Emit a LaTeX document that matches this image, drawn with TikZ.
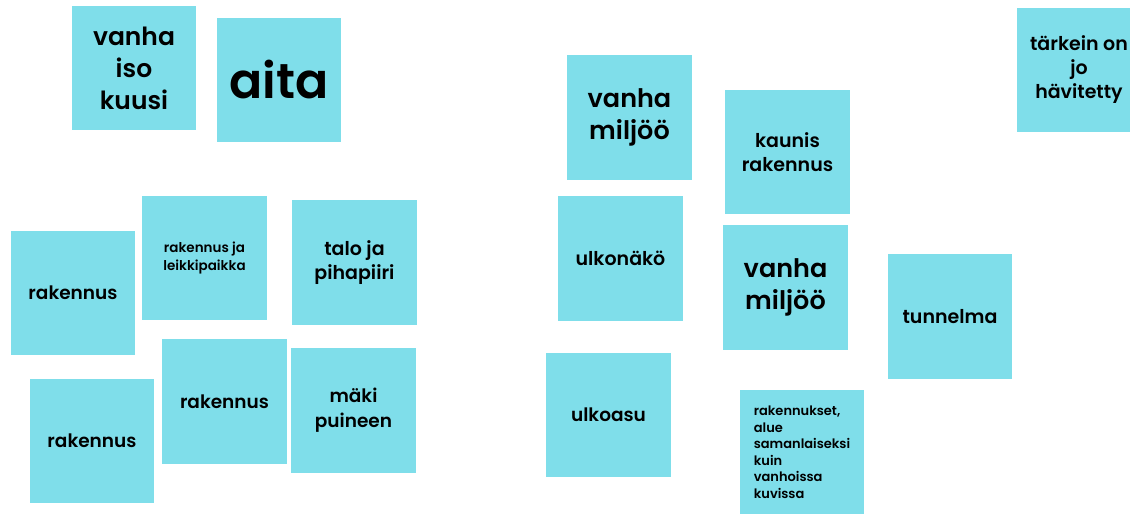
\documentclass[tikz,border=0pt]{standalone}
\usepackage{fontspec}
\setmainfont{Poppins}[UprightFont=* SemiBold, BoldFont=* Bold]
\definecolor{stick}{HTML}{7FDEEA}
\tikzset{
  note/.style={fill=stick, draw=none, minimum width=124.5pt, minimum height=124.5pt, inner sep=0pt, text=black, align=center},
  fs/.style n args={2}{font=\fontsize{#1}{#2}\selectfont}
}
\begin{document}
\begin{tikzpicture}[x=1pt,y=1pt]
\useasboundingbox (0,0) rectangle (1130,-514);
\clip (0,0) rectangle (1130,-514);
\node[note, fs={25}{32}] (kuusi) at (134,-68) {vanha\\iso\\kuusi};
\node[note, fs={49}{60}] (aita) at (279,-80) {aita};
\node[note, fs={19}{24}] (tarkein) at (1079,-70) {tärkein on\\jo\\hävitetty};
\node[note, fs={25.5}{32}] (miljoo1) at (629.5,-117.5) {vanha\\miljöö};
\node[note, fs={19}{24}] (kaunis) at (787.5,-152) {kaunis\\rakennus};
\node[note, fs={13.5}{17.5}] (leikki) at (204.5,-258) {rakennus ja\\leikkipaikka};
\node[note, fs={19}{24}] (talo) at (354.5,-262.5) {talo ja\\pihapiiri};
\node[note, fs={18.5}{23}] (rak1) at (73,-293) {rakennus};
\node[note, fs={19}{23}] (ulkonako) at (620.5,-258.5) {ulkonäkö};
\node[note, fs={25.5}{32}] (miljoo2) at (785.5,-287.5) {vanha\\miljöö};
\node[note, fs={19}{23}] (tunnelma) at (950,-316.5) {tunnelma};
\node[note, fs={18.5}{23}] (rak2) at (224.5,-401.5) {rakennus};
\node[note, fs={18.5}{25}] (maki) at (353.5,-410.5) {mäki\\puineen};
\node[note, fs={18.5}{23}] (rak3) at (92,-441) {rakennus};
\node[note, fs={18.5}{23}] (ulkoasu) at (608.5,-415) {ulkoasu};
\node[note, fs={13}{16.5}, align=left] (rakset) at (802,-452) {rakennukset,\\alue\\samanlaiseksi\\kuin\\vanhoissa\\kuvissa};
\end{tikzpicture}
\end{document}
